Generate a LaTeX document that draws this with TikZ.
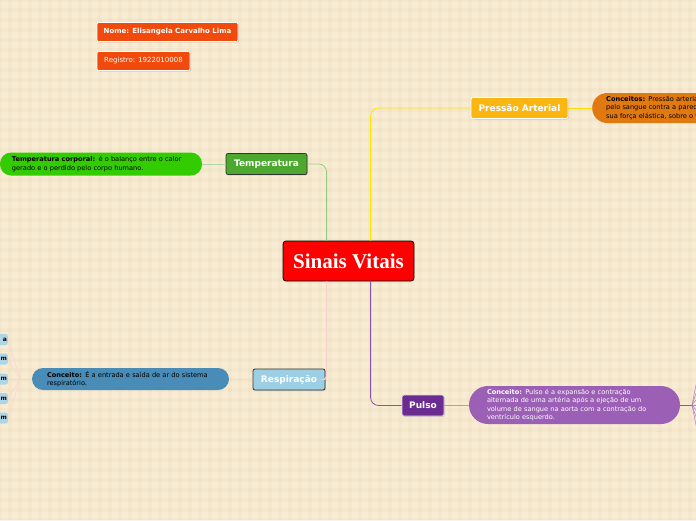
\documentclass[tikz,border=0pt]{standalone}
\usepackage{fontspec}
\setmainfont{DejaVu Sans}
\newfontfamily\titlefont{Liberation Serif}
\usepackage{tikz}
\usetikzlibrary{positioning, calc, shadows}
\definecolor{bgpaper}{RGB}{248,236,212}
\definecolor{bgstripe}{RGB}{236,220,188}
\definecolor{nomered}{RGB}{240,74,12}
\definecolor{paamber}{RGB}{251,182,18}
\definecolor{paorange}{RGB}{224,122,16}
\definecolor{tmpgreen}{RGB}{76,168,46}
\definecolor{tmplime}{RGB}{51,204,0}
\definecolor{respblue}{RGB}{157,207,228}
\definecolor{respsteel}{RGB}{72,140,183}
\definecolor{pulpurple}{RGB}{106,44,145}
\definecolor{pulviolet}{RGB}{155,95,181}

\begin{document}
\begin{tikzpicture}[x=1pt, y=-1pt,
    topic/.style={rectangle, rounded corners=2pt, font=\fontsize{9}{10}\selectfont\bfseries,
                  text=white, inner sep=0pt, minimum height=21pt,
                  drop shadow={opacity=0.25, shadow xshift=1pt, shadow yshift=-1pt}},
    pill/.style={rectangle, rounded corners=11pt, font=\fontsize{6.6}{8.6}\selectfont,
                 align=left, inner ysep=0pt},
    info/.style={rectangle, rounded corners=2pt, fill=nomered, text=white, draw=white,
                 line width=0.6pt, inner sep=0pt, minimum height=19pt,
                 font=\fontsize{7}{8}\selectfont,
                 drop shadow={opacity=0.25, shadow xshift=1pt, shadow yshift=-1pt}},
    leaf/.style={rectangle, rounded corners=2pt, fill=respblue!85, anchor=east,
                 minimum height=11pt, text width=34pt, align=right, inner sep=1pt,
                 font=\fontsize{6}{7}\selectfont\bfseries},
    link/.style={line width=0.8pt}]

\useasboundingbox (0,0) rectangle (696,520);
\clip (0,0) rectangle (696,520);
\fill[bgpaper] (0,0) rectangle (696,520);
\foreach \s in {0,10,...,700}
  \draw[bgstripe, line width=4pt, opacity=0.3] (\s,0) -- (\s,520);
\foreach \s in {0,10,...,520}
  \draw[bgstripe, line width=4pt, opacity=0.3] (0,\s) -- (696,\s);

% cabecalho
\node (nome)     [info, minimum width=141pt, font=\fontsize{7}{8}\selectfont\bfseries] at (167.5,32) {Nome: Elisangela Carvalho Lima};
\node (registro) [info, minimum width=93pt]  at (143.5,61) {Registro: 1922010008};

% centro
\node (sinais) [rectangle, rounded corners=3pt, fill=red, draw=black, line width=0.8pt,
                minimum width=131pt, minimum height=40pt, text=white,
                font=\fontsize{21}{23}\titlefont\bfseries] at (348.5,261) {Sinais Vitais};

% topicos
\node (pressao) [topic, fill=paamber, draw=white, line width=0.8pt, minimum width=97pt] at (519.5,108) {Pressão Arterial};
\node (temp)    [topic, fill=tmpgreen, draw=black!80, line width=0.8pt, minimum width=81pt] at (266.5,164) {Temperatura};
\node (resp)    [topic, fill=respblue, draw=black!80, line width=0.8pt, minimum width=72pt] at (289,379.5) {Respiração};
\node (pulso)   [topic, fill=pulpurple, draw=white!80!pulpurple, line width=0.8pt, minimum width=42pt] at (423,405.5) {Pulso};

% conceitos
\node (pressaoconc) [pill, rounded corners=15pt, fill=paorange, anchor=west, minimum height=30pt,
                     inner xsep=14pt, text width=220pt] at (592,108)
  {\textbf{Conceitos:} Pressão arterial é a pressão exercida\\pelo sangue contra a parede das artérias, que depende de\\sua força elástica, sobre o volume de sangue};
\node (tempconc) [pill, fill=tmplime, minimum height=23pt, inner xsep=12pt, text width=178pt] at (101,164)
  {\textbf{Temperatura corporal:} é o balanço entre o calor\\gerado e o perdido pelo corpo humano.};
\node (respconc) [pill, fill=respsteel, minimum height=22pt, inner xsep=15pt, text width=167pt] at (130.5,379)
  {\textbf{Conceito:} É a entrada e saída de ar do sistema\\respiratório.};
\node (pulsoconc) [pill, rounded corners=19pt, fill=pulviolet, text=white, minimum height=38pt,
                   inner xsep=18pt, text width=175pt] at (574.5,405)
  {\textbf{Conceito:} Pulso é a expansão e contração\\alternada de uma artéria após a ejeção de um\\volume de sangue na aorta com a contração do\\ventrículo esquerdo.};

% ramos da respiracao (cortados na borda)
\node (r1) [leaf] at (8,339.5) {a};
\node (r2) [leaf] at (8,359)   {m};
\node (r3) [leaf] at (8,379)   {m};
\node (r4) [leaf] at (8,398.5) {m};
\node (r5) [leaf] at (8,418)   {m};
\coordinate (rj) at (20,379);

% ramos do pulso (fora da pagina)
\coordinate (pj) at (692,405);
\foreach \y [count=\i] in {345,370,390,405,420,440,465}
  \coordinate (p\i) at (704,\y);

% ligacoes
\draw[link, tmpgreen!60, rounded corners=8pt] (temp.east) -| ([xshift=44pt]sinais.north west);
\draw[link, yellow!90!orange, rounded corners=8pt] ([xshift=88pt]sinais.north west) |- (pressao.west);
\draw[link, pink!80, rounded corners=4pt] ([xshift=44pt]sinais.south west) |- (resp.east);
\draw[link, pulpurple!80, rounded corners=8pt] ([xshift=88pt]sinais.south west) |- (pulso.west);

\draw[link, yellow!80!orange, line width=0.5pt] (pressao) -- (pressaoconc);
\draw[link, tmpgreen!45, line width=0.5pt] (tempconc) -- (temp);
\draw[link, pink!70, line width=0.5pt] (respconc) -- (resp);
\draw[link, pulpurple!70, line width=0.5pt] (pulso) -- (pulsoconc);

\draw[pink!70, line width=0.5pt] (respconc.west) -- (rj);
\foreach \i in {1,...,5}
  \draw[pink!70, line width=0.5pt] (rj) -- (r\i.east);

\draw[pulpurple!80, line width=0.8pt] (pulsoconc.east) -- (pj);
\foreach \i in {1,...,7}
  \draw[pulviolet!80, line width=0.5pt] (pj) -- (p\i);
\end{tikzpicture}
\end{document}
